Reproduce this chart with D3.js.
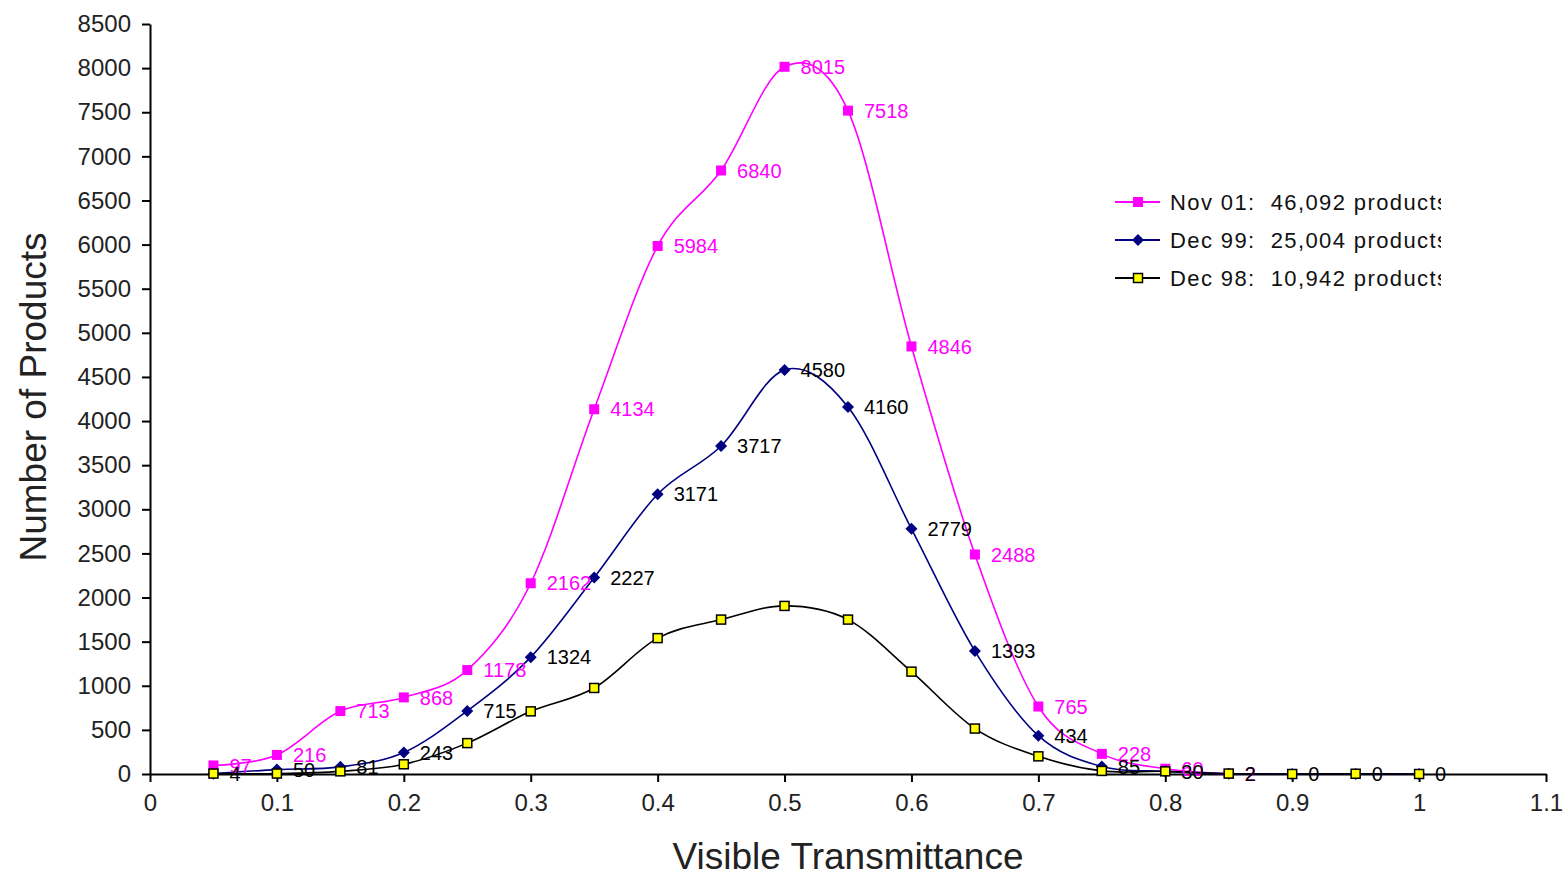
<!DOCTYPE html>
<html>
<head>
<meta charset="utf-8">
<script src="https://cdn.jsdelivr.net/npm/d3@7"></script>
<style>
  body { margin: 0; background: #fff; }
  svg { font-family: "Liberation Sans", Arial, sans-serif; }
  .legtext { white-space: pre; }
</style>
</head>
<body>
<svg id="chart" width="1564" height="873"></svg>
<script>
// visible transmittance bins
const vt = [0.05, 0.1, 0.15, 0.2, 0.25, 0.3, 0.35, 0.4, 0.45, 0.5,
            0.55, 0.6, 0.65, 0.7, 0.75, 0.8, 0.85, 0.9, 0.95, 1.0]

const nov01 = [97, 216, 713, 868, 1178, 2162, 4134, 5984, 6840, 8015,
               7518, 4846, 2488, 765, 228, 60, 2]
const dec99 = [4, 50, 81, 243, 715, 1324, 2227, 3171, 3717, 4580,
               4160, 2779, 1393, 434, 85, 30, 2, 0, 0, 0]
const dec98 = [5, 5, 30, 110, 350, 710, 975, 1540, 1750, 1905,
               1750, 1160, 515, 200, 35, 30, 5, 0, 3, 0]

const xTicks = d3.range(0, 1.101, 0.1)
const yTicks = d3.range(0, 8501, 500)

const series = [
  {name: 'Nov 01:  46,092 products', values: nov01, color: '#ff00ff', marker: 'square', fill: '#ff00ff', labelColor: '#ff00ff', labels: true},
  {name: 'Dec 99:  25,004 products', values: dec99, color: '#000080', marker: 'diamond', fill: '#000080', labelColor: '#000', labels: true},
  {name: 'Dec 98:  10,942 products', values: dec98, color: '#000', marker: 'square', fill: '#ffff00', labelColor: '#000', labels: false}
]

const svg = d3.select('#chart')
const margin = {top: 24, right: 18, bottom: 99, left: 150}
const width = 1564, height = 873
const innerWidth = width - margin.left - margin.right
const innerHeight = height - margin.top - margin.bottom

const xScale = d3.scaleLinear().domain([0, 1.1]).range([0, innerWidth])
const yScale = d3.scaleLinear().domain([0, 8500]).range([innerHeight, 0])

const g = svg.append('g')
    .attr('transform', `translate(${margin.left},${margin.top})`)

// axes
const xAxis = g.append('g')
    .attr('transform', `translate(0,${innerHeight})`)
    .call(d3.axisBottom(xScale).tickValues(xTicks).tickSize(8).tickSizeOuter(0)
      .tickFormat(d => d3.format('~g')(+d.toFixed(1))))
const yAxis = g.append('g')
    .call(d3.axisLeft(yScale).tickValues(yTicks).tickSize(8).tickSizeOuter(0).tickFormat(d3.format('d')))

for (const ax of [xAxis, yAxis]) {
  ax.select('.domain').attr('stroke', '#000').attr('stroke-width', 2)
  ax.selectAll('.tick line').attr('stroke', '#000').attr('stroke-width', 2)
  ax.selectAll('.tick text').attr('fill', '#222').attr('font-size', 24)
    .attr('font-family', '"Liberation Sans", Arial, sans-serif')
}
xAxis.selectAll('.tick text').attr('y', 14).attr('dy', '0.95em')
yAxis.selectAll('.tick text').attr('x', -19)

// axis titles
g.append('text')
    .text('Visible Transmittance')
    .attr('x', xScale(0.55)).attr('y', innerHeight + 95)
    .attr('text-anchor', 'middle').attr('font-size', 37).attr('fill', '#222')
g.append('text')
    .text('Number of Products')
    .attr('transform', `translate(${-104},${innerHeight / 2 - 2}) rotate(-90)`)
    .attr('text-anchor', 'middle').attr('font-size', 37).attr('fill', '#222')

function drawMarker(sel, s) {
  if (s.marker === 'diamond') {
    sel.append('path').attr('d', 'M0,-6L6,0L0,6L-6,0Z').attr('fill', s.fill)
  } else if (s.fill === '#ffff00') {
    sel.append('rect').attr('x', -4.5).attr('y', -4.5).attr('width', 9).attr('height', 9)
      .attr('fill', s.fill).attr('stroke', '#000').attr('stroke-width', 1.5)
  } else {
    sel.append('rect').attr('x', -5).attr('y', -5).attr('width', 10).attr('height', 10)
      .attr('fill', s.fill)
  }
}

const line = d3.line()
    .x((d, i) => xScale(vt[i]))
    .y(d => yScale(d))
    .curve(d3.curveCatmullRom.alpha(0))

// lines and markers
series.forEach(s => {
  g.append('path').datum(s.values)
      .attr('d', line)
      .attr('fill', 'none')
      .attr('stroke', s.color)
      .attr('stroke-width', 1.6)
})
series.forEach(s => {
  s.values.forEach((v, i) => {
    const m = g.append('g').attr('transform', `translate(${xScale(vt[i])},${yScale(v)})`)
    drawMarker(m, s)
  })
})

// data labels
series.filter(s => s.labels).forEach(s => {
  g.append('g').selectAll('text').data(s.values).join('text')
      .text(d => d)
      .attr('x', (d, i) => xScale(vt[i]) + 16)
      .attr('y', d => yScale(d))
      .attr('dy', '0.36em')
      .attr('font-size', 20)
      .attr('fill', s.labelColor)
})

// legend, cut at the right like the original box
svg.append('clipPath').attr('id', 'legclip')
  .append('rect').attr('x', 1100).attr('y', 170).attr('width', 341).attr('height', 130)
const legend = svg.append('g').attr('clip-path', 'url(#legclip)')
series.forEach((s, i) => {
  const y = 202 + i * 38
  legend.append('line').attr('x1', 1115).attr('x2', 1160).attr('y1', y).attr('y2', y)
      .attr('stroke', s.color).attr('stroke-width', 2)
  drawMarker(legend.append('g').attr('transform', `translate(1138,${y})`), s)
  legend.append('text').attr('class', 'legtext').text(s.name)
      .attr('x', 1170).attr('y', y).attr('dy', '0.36em')
      .attr('font-size', 22).attr('letter-spacing', 1.4).attr('fill', '#111')
})
</script>
</body>
</html>
